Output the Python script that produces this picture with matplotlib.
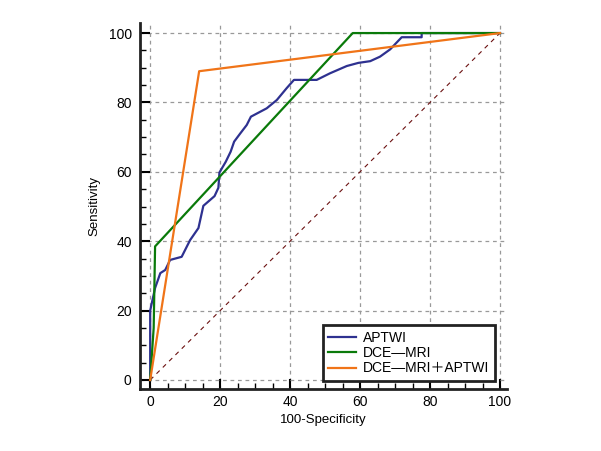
import numpy as np
import matplotlib.pyplot as plt
from matplotlib.ticker import MultipleLocator

plt.rcParams['font.family'] = ['Liberation Sans', 'Noto Sans CJK SC', 'DejaVu Sans']

# ROC points (100-Specificity, Sensitivity)
aptwi_x = [0, 0, 1.4, 2.9, 4.3, 5.7, 9.0, 11.4, 13.8, 15.2, 18.4, 19.5, 19.8, 21.6, 23.0, 24.0,
           25.7, 27.6, 28.8, 33.3, 36.2, 39.0, 41.1, 47.6, 51.4, 56.2, 59.5, 62.9, 65.7, 68.6,
           71.9, 77.6, 77.6, 100]
aptwi_y = [0, 20, 26.5, 30.8, 31.7, 34.6, 35.5, 40.3, 43.8, 50.2, 53.0, 55.4, 59.8, 62.9, 65.8, 68.7,
           71.0, 73.5, 75.9, 78.3, 80.7, 84.1, 86.5, 86.5, 88.4, 90.5, 91.4, 91.9, 93.2, 95.3,
           98.8, 98.8, 100, 100]

dce_x = [0, 1.0, 1.4, 57.9, 100]
dce_y = [0, 15, 38.5, 100, 100]

comb_x = [0, 14.0, 100]
comb_y = [0, 89.0, 100]

labels = ['APTWI', 'DCE—MRI', 'DCE—MRI＋APTWI']
colors = ['#2e3190', '#0a7a0a', '#f07418']

fig = plt.figure(figsize=(6.01, 4.51), dpi=100)
ax = fig.add_axes([0.233, 0.1375, 0.6106, 0.8115])

ax.plot([0, 100], [0, 100], color='#6b1010', lw=0.8, dashes=(4, 4), zorder=2)
ax.plot(aptwi_x, aptwi_y, color=colors[0], lw=1.6, label=labels[0], zorder=3)
ax.plot(dce_x, dce_y, color=colors[1], lw=1.6, label=labels[1], zorder=3)
ax.plot(comb_x, comb_y, color=colors[2], lw=1.6, label=labels[2], zorder=3)

ax.set_xlim(-2.9, 102)
ax.set_ylim(-2.6, 102.9)
ax.xaxis.set_major_locator(MultipleLocator(20))
ax.yaxis.set_major_locator(MultipleLocator(20))
ax.xaxis.set_minor_locator(MultipleLocator(5))
ax.yaxis.set_minor_locator(MultipleLocator(5))
ax.grid(True, which='major', color='#999999', lw=0.9, dashes=(3, 3))

for s in ['top', 'right']:
    ax.spines[s].set_visible(False)
for s in ['left', 'bottom']:
    ax.spines[s].set_linewidth(2)
    ax.spines[s].set_color('#222222')

ax.tick_params(which='major', direction='in', length=7, width=1.5, labelsize=10, pad=4)
ax.tick_params(which='minor', direction='in', length=4, width=1.0)
ax.tick_params(axis='y', pad=6)

ax.set_xlabel('100-Specificity', fontsize=9.5, labelpad=4)
ax.set_ylabel('Sensitivity', fontsize=9.5, labelpad=6)

leg = ax.legend(loc='lower right', bbox_to_anchor=(0.967, 0.022), borderaxespad=0,
                fancybox=False, edgecolor='#222222', framealpha=1, fontsize=10,
                handlelength=2.0, handletextpad=0.5, labelspacing=0.1, borderpad=0.4)
leg.get_frame().set_linewidth(2)

fig.savefig('out.png', dpi=100)
